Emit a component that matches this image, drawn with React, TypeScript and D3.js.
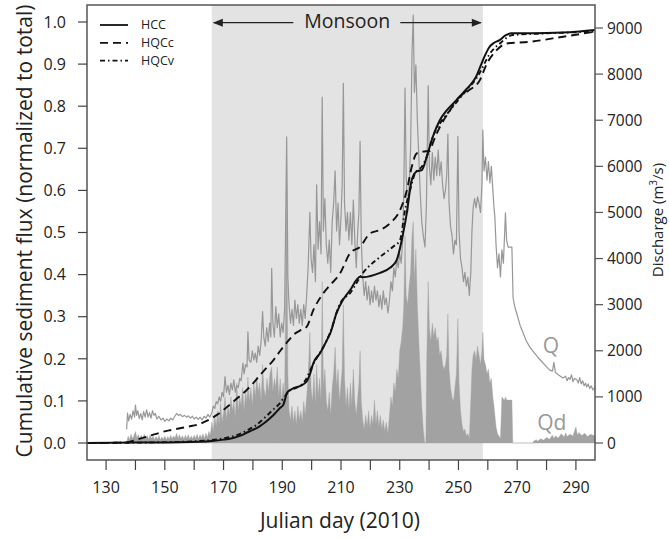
import React from 'react';
import * as d3 from 'd3';

type P = [number, number];

// ---------- data ----------
const xTickDays: number[] = [130, 140, 150, 160, 170, 180, 190, 200, 210, 220, 230, 240, 250, 260, 270, 280, 290];
const xLabelDays: number[] = [130, 150, 170, 190, 210, 230, 250, 270, 290];
const leftTicks: number[] = [0, 0.1, 0.2, 0.3, 0.4, 0.5, 0.6, 0.7, 0.8, 0.9, 1.0];
const rightTicks: number[] = [0, 1000, 2000, 3000, 4000, 5000, 6000, 7000, 8000, 9000];
const monsoonDays: P = [166, 258.3];

// Discharge Q (m3/s), [julian day, value]
const qSeries: P[] = [
  [137.0, 300], [137.3, 650], [137.7, 480], [138.2, 620], [138.7, 520], [139.2, 700], [139.7, 560], [140.0, 824], [140.4, 600], [140.8, 700],
  [141.3, 530], [141.8, 640], [142.3, 500], [142.8, 680], [143.3, 560], [143.8, 720], [144.3, 560], [144.8, 660], [145.3, 540], [145.8, 700],
  [146.3, 600], [146.8, 640], [147.3, 520], [148.0, 580], [148.7, 500], [149.4, 540], [150.0, 470], [150.7, 520], [151.4, 480], [152.0, 540],
  [152.7, 500], [153.4, 580], [154.0, 640], [154.6, 600], [155.3, 620], [156.0, 570], [156.7, 600], [157.4, 560], [158.0, 590], [158.7, 540],
  [159.4, 580], [160.0, 520], [160.7, 560], [161.4, 510], [162.0, 560], [162.7, 500], [163.4, 580], [164.0, 540], [164.7, 620], [165.3, 560],
  [166.0, 650], [166.5, 800], [167.0, 750], [167.5, 900], [168.0, 850], [168.5, 1000], [169.0, 900], [169.5, 1100], [170.0, 1000], [170.5, 1440],
  [171.0, 1100], [171.5, 1250], [172.0, 1050], [172.5, 1300], [173.0, 1150], [173.5, 1370], [174.0, 1100], [174.5, 1250], [175.0, 1200], [175.5, 1400],
  [176.0, 1350], [176.6, 1735], [177.0, 1500], [177.5, 1700], [178.0, 1650], [178.3, 2410], [178.7, 1800], [179.3, 1750], [179.8, 2000], [180.3, 1800],
  [180.8, 1950], [181.3, 1750], [181.8, 2100], [182.3, 1900], [182.8, 2200], [183.3, 2850], [183.7, 2300], [184.2, 2100], [184.7, 2500], [185.2, 2200],
  [185.7, 2600], [186.1, 2300], [186.4, 3790], [186.8, 2600], [187.3, 2300], [187.8, 2960], [188.3, 2500], [188.8, 2800], [189.3, 2300], [189.8, 2600],
  [190.3, 2400], [190.8, 2900], [191.5, 6640], [191.9, 3600], [192.3, 3000], [192.8, 2600], [193.3, 2900], [193.8, 2550], [194.3, 3100], [194.8, 2700],
  [195.3, 3000], [195.8, 2600], [196.3, 2900], [196.8, 2550], [197.3, 3000], [197.8, 2700], [198.3, 3200], [198.8, 3800], [199.4, 5000], [199.8, 4000],
  [200.3, 3700], [200.8, 4300], [201.3, 3500], [201.7, 5600], [202.2, 4200], [202.7, 4800], [203.2, 4100], [203.6, 7500], [204.0, 4600], [204.5, 5300],
  [205.0, 4300], [205.5, 3900], [206.0, 4400], [206.5, 3700], [207.0, 4800], [207.5, 5200], [208.0, 5900], [208.5, 4600], [209.0, 5200], [209.5, 4300],
  [210.0, 4900], [210.4, 5600], [210.8, 7800], [211.2, 5200], [211.7, 4600], [212.2, 5000], [212.7, 4400], [213.2, 5000], [213.7, 4300], [214.2, 5270],
  [214.7, 4400], [215.2, 3800], [215.7, 4600], [216.1, 5000], [216.5, 6540], [216.9, 4400], [217.4, 3600], [217.9, 3200], [218.4, 3500], [218.9, 3100],
  [219.4, 3400], [219.9, 3000], [220.4, 3300], [220.9, 3050], [221.4, 3400], [221.9, 3100], [222.4, 3300], [222.9, 2950], [223.4, 3200], [223.9, 2900],
  [224.4, 3300], [224.9, 3000], [225.4, 3150], [226.0, 2820], [226.5, 3100], [227.0, 3500], [227.5, 3300], [228.0, 3800], [228.5, 3600], [229.0, 4000],
  [229.5, 3800], [230.0, 4100], [230.5, 3900], [231.0, 4400], [231.4, 5500], [231.8, 7700], [232.2, 5800], [232.7, 5000], [233.2, 5600], [233.7, 6400],
  [234.2, 8500], [234.6, 9280], [235.0, 7600], [235.5, 8200], [236.0, 7000], [236.5, 6200], [237.0, 5400], [237.5, 4800], [238.0, 4500], [238.6, 4250],
  [239.1, 5200], [239.7, 7750], [240.1, 6000], [240.6, 5600], [241.1, 6300], [241.6, 5700], [242.1, 6200], [242.6, 5800], [243.1, 6350], [243.6, 5800],
  [244.1, 6100], [244.6, 5600], [245.1, 5300], [245.6, 5500], [246.0, 5800], [246.4, 6700], [246.8, 5200], [247.3, 4700], [247.8, 4500], [248.3, 4100],
  [248.8, 4400], [249.3, 4300], [249.8, 6650], [250.2, 4600], [250.7, 4000], [251.2, 3800], [251.7, 3500], [252.2, 3700], [252.7, 3400], [253.2, 3600],
  [253.7, 3200], [254.2, 3700], [254.6, 4600], [255.0, 5100], [255.5, 5300], [256.0, 5100], [256.5, 5340], [257.0, 5200], [257.5, 5000], [258.0, 5600],
  [258.3, 6790], [258.7, 5900], [259.2, 6200], [259.7, 5700], [260.2, 6100], [260.7, 5640], [261.2, 6000], [261.7, 5500], [262.1, 5100], [262.4, 4900],
  [262.8, 4300], [263.3, 3800], [263.8, 4100], [264.3, 3600], [264.8, 4190], [265.3, 3900], [265.7, 4500], [266.0, 4990], [266.4, 4400], [266.9, 4250],
  [267.5, 4250], [268.2, 4250], [268.6, 3150], [269.2, 2950], [269.8, 2820], [271.0, 2550], [272.0, 2390], [273.0, 2230], [274.3, 2080], [275.5, 1980],
  [277.0, 1860], [278.8, 1735], [280.0, 1650], [281.1, 1580], [282.0, 1560], [282.5, 1750], [283.0, 1530], [284.0, 1480], [285.6, 1410], [286.5, 1450],
  [287.0, 1350], [287.5, 1420], [288.0, 1380], [288.5, 1480], [289.0, 1330], [289.5, 1400], [290.3, 1370], [290.8, 1300], [291.3, 1420], [291.8, 1280],
  [292.3, 1350], [292.8, 1240], [293.3, 1300], [293.7, 1215], [294.2, 1280], [294.7, 1180], [295.2, 1240], [295.8, 1150], [296.5, 1200],
];

// Qd (m3/s), [julian day, value]
const qdSeries: P[] = [
  [137.0, 0], [137.5, 150], [138.0, 70], [138.5, 190], [139.0, 90], [139.5, 160], [140.0, 250], [140.5, 110], [141.0, 180], [141.5, 90],
  [142.0, 170], [142.5, 80], [143.0, 190], [143.5, 100], [144.0, 160], [144.5, 80], [145.0, 180], [145.5, 90], [146.0, 150], [146.5, 70],
  [147.0, 140], [147.5, 80], [148.0, 160], [148.5, 70], [149.0, 130], [149.5, 80], [150.0, 150], [150.5, 70], [151.0, 140], [151.5, 80],
  [152.0, 170], [152.5, 90], [153.0, 150], [153.5, 110], [154.0, 210], [154.5, 100], [155.0, 180], [155.5, 90], [156.0, 160], [156.5, 80],
  [157.0, 170], [157.5, 100], [158.0, 180], [158.5, 80], [159.0, 150], [159.5, 90], [160.0, 170], [160.5, 100], [161.0, 190], [161.5, 90],
  [162.0, 180], [162.5, 110], [163.0, 200], [163.5, 100], [164.0, 210], [164.5, 120], [165.0, 250], [165.5, 170],
  [166.0, 450], [166.5, 250], [167.0, 600], [167.5, 350], [168.0, 700], [168.5, 400], [169.0, 870], [169.5, 450], [170.0, 650], [170.5, 1000],
  [171.0, 500], [171.5, 800], [172.0, 600], [172.5, 1000], [173.0, 700], [173.5, 900], [174.0, 550], [174.5, 1300], [175.0, 700], [175.5, 1000],
  [176.0, 800], [176.5, 1200], [177.0, 700], [177.5, 1100], [178.0, 900], [178.3, 1430], [178.7, 900], [179.3, 1200], [179.8, 800], [180.3, 1300],
  [180.8, 1000], [181.3, 1430], [181.8, 1100], [182.3, 1300], [182.8, 900], [183.3, 1700], [183.7, 1200], [184.3, 1000], [184.8, 1400], [185.3, 1100],
  [185.8, 1500], [186.4, 1650], [186.8, 1100], [187.3, 1400], [187.8, 1200], [188.3, 1650], [188.8, 1000], [189.3, 1400], [189.8, 900], [190.3, 1300],
  [190.8, 1000], [191.5, 5500], [191.9, 1500], [192.3, 700], [192.8, 500], [193.3, 800], [193.8, 450], [194.3, 700], [194.8, 400], [195.3, 800],
  [195.8, 500], [196.3, 700], [196.8, 450], [197.3, 900], [197.8, 600], [198.3, 1000], [198.8, 1400], [199.4, 2400], [199.8, 1200], [200.3, 900],
  [200.8, 1500], [201.3, 800], [201.7, 1700], [202.2, 1000], [202.7, 1400], [203.2, 900], [203.6, 3500], [204.0, 1200], [204.5, 1600], [205.0, 900],
  [205.5, 700], [206.0, 1100], [206.5, 600], [207.0, 1200], [207.5, 1500], [208.0, 2080], [208.5, 1200], [209.0, 1600], [209.5, 900], [210.0, 1300],
  [210.4, 1600], [210.8, 3000], [211.2, 1400], [211.7, 800], [212.2, 1200], [212.7, 700], [213.2, 1300], [213.7, 800], [214.2, 1600], [214.7, 900],
  [215.2, 600], [215.7, 1000], [216.1, 1300], [216.5, 2000], [216.9, 900], [217.4, 500], [217.9, 300], [218.4, 600], [218.9, 350], [219.4, 700],
  [219.9, 300], [220.4, 600], [220.9, 400], [221.4, 930], [221.9, 400], [222.4, 700], [222.9, 350], [223.4, 600], [223.9, 300], [224.4, 500],
  [224.9, 250], [225.4, 450], [226.0, 200], [226.5, 600], [227.0, 1000], [227.5, 800], [228.0, 1300], [228.5, 1100], [229.0, 1600], [229.5, 1400],
  [230.0, 2000], [230.5, 2200], [231.0, 2500], [231.4, 3000], [231.8, 4500], [232.2, 3200], [232.7, 3000], [233.2, 3400], [233.7, 3700], [234.2, 4500],
  [234.6, 4800], [235.0, 3500], [235.5, 4200], [236.0, 3000], [236.5, 2200], [237.0, 1500], [237.5, 800], [238.0, 300], [238.5, 0], [238.9, 0],
  [239.2, 1800], [239.7, 3500], [240.1, 2500], [240.6, 2200], [241.1, 2600], [241.6, 2300], [242.1, 2500], [242.6, 2200], [243.1, 2300], [243.6, 1900],
  [244.1, 2000], [244.6, 1700], [245.1, 1600], [245.6, 1700], [246.0, 1900], [246.4, 2800], [246.8, 1600], [247.3, 1200], [247.8, 1000], [248.3, 900],
  [248.8, 1200], [249.3, 1500], [249.8, 2700], [250.2, 1300], [250.7, 700], [251.2, 400], [251.7, 250], [252.2, 300], [252.7, 150], [253.2, 200],
  [253.7, 100], [254.2, 900], [254.6, 1600], [255.0, 1900], [255.5, 2000], [256.0, 1800], [256.5, 2100], [257.0, 1900], [257.5, 1700], [258.0, 2000],
  [258.3, 2400], [258.7, 1800], [259.2, 1700], [259.7, 1500], [260.2, 1600], [260.7, 1300], [261.2, 1400], [261.7, 1000], [262.1, 800], [262.4, 600],
  [262.8, 350], [263.3, 200], [263.8, 150], [264.3, 100], [264.8, 1000], [265.3, 950], [265.7, 930], [266.0, 1000], [266.4, 930], [266.9, 930],
  [267.5, 930], [268.2, 930], [268.5, 0], [275.3, 0], [275.6, 40], [276.5, 70], [277.0, 40], [278.0, 90], [279.0, 60], [280.0, 120],
  [281.0, 80], [282.0, 170], [282.5, 100], [283.0, 150], [284.0, 110], [285.0, 200], [286.0, 130], [286.5, 220], [287.0, 140], [288.0, 190],
  [289.0, 150], [290.0, 350], [290.5, 170], [291.0, 230], [292.0, 160], [293.0, 210], [294.0, 140], [295.0, 190], [296.5, 150],
];

// Cumulative sediment flux (normalized), [julian day, value]
const hccSeries: P[] = [
  [123.5, 0], [140, 0.001], [155, 0.002], [166, 0.005], [170, 0.008], [173.3, 0.012], [176, 0.018], [178, 0.025], [180, 0.031],
  [182.4, 0.04], [184, 0.048], [186, 0.06], [187.5, 0.07], [189.2, 0.083], [190.3, 0.09], [191, 0.105], [191.5, 0.118], [192.5, 0.125],
  [193.8, 0.13], [196, 0.135], [198.3, 0.146], [199.5, 0.165], [200.6, 0.19], [202.9, 0.214], [205.6, 0.25], [206.3, 0.26], [208.5, 0.309],
  [210.7, 0.34], [213.1, 0.363], [216.5, 0.395], [217.5, 0.394], [223.3, 0.404], [226.7, 0.416], [229, 0.435], [230.7, 0.482], [232.4, 0.546],
  [234.1, 0.625], [235.8, 0.645], [237.5, 0.648], [239.2, 0.68], [241.3, 0.728], [243.7, 0.767], [246, 0.79], [249.4, 0.815], [252, 0.835],
  [254, 0.85], [256, 0.87], [257.5, 0.895], [259, 0.92], [260.5, 0.94], [262, 0.95], [264, 0.957], [266, 0.968], [268, 0.973], [280, 0.974],
  [290, 0.977], [296.5, 0.981],
];
const hqccSeries: P[] = [
  [123.5, 0], [136, 0.001], [138.2, 0.003], [141, 0.009], [143.9, 0.015], [146.7, 0.021], [149.5, 0.027], [152.3, 0.031], [155.2, 0.035],
  [158, 0.039], [160.9, 0.043], [163.5, 0.05], [166, 0.059], [168, 0.068], [169.9, 0.078], [171.6, 0.088], [173.3, 0.098], [175.6, 0.112],
  [177.9, 0.126], [180.2, 0.143], [182.4, 0.161], [184.7, 0.179], [187, 0.197], [188.7, 0.213], [190.4, 0.229], [192.1, 0.243], [193.8, 0.257],
  [196, 0.267], [198.3, 0.276], [200.6, 0.316], [204, 0.356], [206.3, 0.375], [209.7, 0.403], [213.1, 0.451], [216.5, 0.466], [219.9, 0.498],
  [223.3, 0.506], [226.7, 0.522], [230.1, 0.553], [232.4, 0.6], [234.1, 0.656], [235.8, 0.688], [237.9, 0.692], [240.3, 0.694], [241.3, 0.713],
  [243.7, 0.751], [247.1, 0.79], [249.4, 0.815], [253, 0.835], [257.3, 0.862], [259.6, 0.9], [263, 0.933], [266.4, 0.949], [274.3, 0.953],
  [285.6, 0.965], [296.5, 0.977],
];
const hqcvSeries: P[] = [
  [123.5, 0], [150, 0.002], [160, 0.004], [166, 0.007], [170, 0.011], [175, 0.02], [178, 0.03], [181, 0.042], [184, 0.06], [187, 0.08],
  [189, 0.093], [191, 0.112], [192.5, 0.124], [195, 0.132], [198, 0.15], [200, 0.18], [202, 0.205], [204, 0.228], [206.3, 0.262],
  [209.7, 0.332], [213.1, 0.356], [217.5, 0.404], [223.3, 0.442], [227.7, 0.466], [230.1, 0.482], [231.8, 0.553], [233.5, 0.6], [235.2, 0.64],
  [237.5, 0.656], [239.2, 0.68], [241.3, 0.728], [243.7, 0.759], [247.1, 0.79], [250, 0.815], [253, 0.84], [256, 0.865], [257.3, 0.88],
  [260.7, 0.925], [264.1, 0.949], [268.5, 0.969], [280, 0.973], [296.5, 0.977],
];

const legendNames: string[] = ['HCC', 'HQCc', 'HQCv'];
const legendDash: string[] = ['none', '8,5', '5,3,1.5,3'];

// ---------- layout ----------
const W = 669;
const H = 539;
const PL = 87, PR = 595, PT = 5, PB = 460;
const FONT = "'Open Sans', 'DejaVu Sans', sans-serif";

export default function App() {
  const x = d3.scaleLinear().domain([123.5, 296.5]).range([PL, PR]);
  const yL = d3.scaleLinear().domain([0, 1]).range([443, 22]);
  const yR = d3.scaleLinear().domain([0, 9000]).range([443, 28]);

  const qLine = d3.line<P>().x(d => x(d[0])).y(d => yR(d[1]));
  const qdArea = d3.area<P>().x(d => x(d[0])).y0(yR(0)).y1(d => yR(d[1]));
  const cumLine = d3.line<P>().x(d => x(d[0])).y(d => yL(d[1])).curve(d3.curveMonotoneX);

  const m0 = x(monsoonDays[0]);
  const m1 = x(monsoonDays[1]);
  const mc = (m0 + m1) / 2;
  const ay = 22.7;

  const cumSeries = [hccSeries, hqccSeries, hqcvSeries];

  return (
    <svg width={W} height={H} style={{ position: 'absolute', left: 0, top: 0, background: '#fff' }}
      fontFamily={FONT}>
      <rect x={0} y={0} width={W} height={H} fill="#fff" />
      {/* monsoon shading */}
      <rect x={m0} y={PT} width={m1 - m0} height={PB - PT} fill="#e3e3e3" />
      {/* Qd area */}
      <path d={qdArea(qdSeries) || ''} fill="#a2a2a2" stroke="#a2a2a2" strokeWidth={0.4} />
      {/* Q line */}
      <path d={qLine(qSeries) || ''} fill="none" stroke="#979797" strokeWidth={1.2} strokeLinejoin="round" />
      {/* cumulative curves */}
      {cumSeries.map((s, i) => (
        <path key={i} d={cumLine(s) || ''} fill="none" stroke="#111"
          strokeWidth={i === 0 ? 2 : 1.9}
          strokeDasharray={legendDash[i] === 'none' ? undefined : legendDash[i]} />
      ))}
      {/* Q / Qd labels */}
      <text x={x(281.5)} y={yR(1950)} textAnchor="middle" fontSize={21} fill="#999">Q</text>
      <text x={x(281.8)} y={yR(280)} textAnchor="middle" fontSize={21} fill="#999">Qd</text>

      {/* monsoon arrow */}
      <line x1={m0 + 2} x2={mc - 54} y1={ay} y2={ay} stroke="#222" strokeWidth={1.3} />
      <line x1={mc + 53} x2={m1 - 2} y1={ay} y2={ay} stroke="#222" strokeWidth={1.3} />
      <polygon points={`${m0 + 1},${ay} ${m0 + 11},${ay - 4} ${m0 + 11},${ay + 4}`} fill="#222" />
      <polygon points={`${m1 - 1},${ay} ${m1 - 11},${ay - 4} ${m1 - 11},${ay + 4}`} fill="#222" />
      <text x={mc} y={27.5} textAnchor="middle" fontSize={19.5} fill="#222">Monsoon</text>

      {/* legend */}
      {legendNames.map((n, i) => (
        <g key={n}>
          <line x1={100} x2={128} y1={25 + i * 17.8} y2={25 + i * 17.8} stroke="#111" strokeWidth={1.8}
            strokeDasharray={legendDash[i] === 'none' ? undefined : legendDash[i]} />
          <text x={141} y={25 + i * 17.8} dy="0.35em" fontSize={12.5} fill="#222">{n}</text>
        </g>
      ))}

      {/* frame */}
      <rect x={PL} y={PT} width={PR - PL} height={PB - PT} fill="none" stroke="#555" strokeWidth={1.5} />

      {/* left axis */}
      {leftTicks.map(t => (
        <g key={'l' + t}>
          <line x1={PL - 9} x2={PL} y1={yL(t)} y2={yL(t)} stroke="#444" strokeWidth={1.2} />
          <text x={66} y={yL(t)} dy="0.36em" textAnchor="end" fontSize={16} fill="#222">{t.toFixed(1)}</text>
        </g>
      ))}
      {/* right axis */}
      {rightTicks.map(t => (
        <g key={'r' + t}>
          <line x1={PR} x2={PR + 8} y1={yR(t)} y2={yR(t)} stroke="#555" strokeWidth={1.2} />
          <text x={607} y={yR(t)} dy="0.36em" textAnchor="start" fontSize={15.5} fill="#222">{t}</text>
        </g>
      ))}
      {/* bottom axis */}
      {xTickDays.map(t => (
        <line key={'x' + t} x1={x(t)} x2={x(t)} y1={PB} y2={PB + 10} stroke="#444" strokeWidth={1.2} />
      ))}
      {xLabelDays.map(t => (
        <text key={'xl' + t} x={x(t)} y={493} textAnchor="middle" fontSize={16} fill="#222">{t}</text>
      ))}

      {/* axis titles */}
      <text x={340} y={528} textAnchor="middle" fontSize={21} fill="#222">Julian day (2010)</text>
      <text transform={`translate(32,231) rotate(-90)`} textAnchor="middle" fontSize={21} fill="#222">
        Cumulative sediment flux (normalized to total)
      </text>
      <text transform={`translate(663,220) rotate(-90)`} textAnchor="middle" fontSize={15} fill="#222">
        Discharge (m<tspan fontSize={10} dy={-6}>3</tspan><tspan dy={6}>/s)</tspan>
      </text>
    </svg>
  );
}
